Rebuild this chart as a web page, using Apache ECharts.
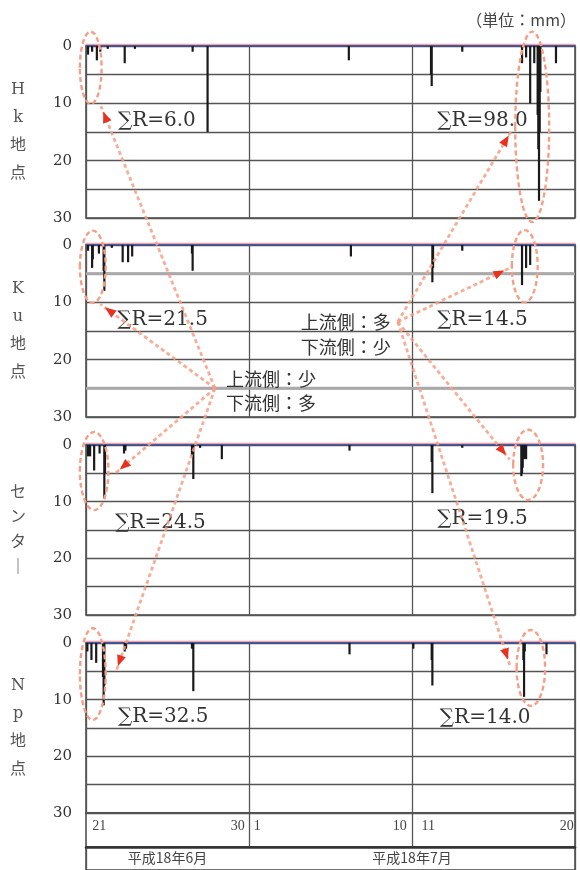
<!DOCTYPE html>
<html>
<head>
<meta charset="utf-8">
<script src="https://cdn.jsdelivr.net/npm/echarts@6/dist/echarts.min.js"></script>
<style>
html,body{margin:0;padding:0;background:#fff;}
#chart{width:580px;height:870px;}
</style>
</head>
<body>
<div id="chart"></div>
<script>
// Hourly rainfall (mm), 21 June – 20 July 2006, at four gauges.
const stationNames = ['H\nk\n地\n点', 'K\nu\n地\n点', 'セ\nン\nタ\n｜', 'N\np\n地\n点'];

const hkTimes = ['06-21 03:00','06-21 09:00','06-21 16:00','06-21 21:00','06-22 08:00','06-23 09:00','06-24 00:00',
  '06-27 13:00','06-28 11:00','07-07 03:00','07-12 04:00','07-12 05:00','07-14 02:00',
  '07-17 18:00','07-18 00:00','07-18 06:00','07-18 12:00','07-18 17:00','07-18 18:00','07-18 19:00','07-18 20:00','07-18 21:00',
  '07-19 20:00'];
const hkRain = [1.5,1.0,2.5,1.0,0.5,3.0,0.5,
  1.0,15.0,2.5,5.0,7.0,1.0,
  3.0,2.0,10.0,3.0,12.0,18.0,27.0,15.0,8.0,
  3.0];

const kuTimes = ['06-21 03:00','06-21 09:00','06-21 10:00','06-21 19:00','06-22 02:00','06-22 03:00','06-22 14:00',
  '06-23 06:00','06-23 14:00','06-23 20:00','06-27 12:00','06-27 13:00','07-07 06:00','07-12 06:00','07-12 07:00',
  '07-14 02:00','07-17 18:00','07-18 00:00','07-18 06:00'];
const kuRain = [1.0,4.0,2.5,1.5,4.5,8.0,0.5,
  3.0,3.0,2.0,1.5,4.5,2.0,6.5,4.0,
  1.0,7.0,4.0,3.5];

const ctTimes = ['06-21 03:00','06-21 06:00','06-21 12:00','06-21 20:00','06-22 03:00','06-22 04:00',
  '06-23 08:00','06-23 10:00','06-27 12:00','06-27 14:00','06-28 00:00','06-29 08:00','07-07 04:00',
  '07-12 05:00','07-12 06:00','07-14 02:00','07-17 17:00','07-17 18:00','07-17 19:00','07-17 21:00','07-18 00:00'];
const ctRain = [2.0,2.0,4.5,1.5,9.5,5.0,
  1.5,1.0,2.0,6.0,0.5,2.5,1.0,
  3.0,8.5,0.5,5.5,5.0,4.0,2.5,2.5];

const npTimes = ['06-21 02:00','06-21 08:00','06-21 15:00','06-22 01:00','06-22 02:00','06-22 03:00',
  '06-23 09:00','06-23 11:00','06-27 12:00','06-27 14:00','07-07 04:00','07-11 02:00','07-12 05:00','07-12 06:00',
  '07-17 20:00','07-17 21:00','07-17 22:00','07-19 06:00'];
const npRain = [1.5,3.0,3.5,6.0,11.0,7.5,
  1.5,1.0,1.0,8.5,2.0,1.0,3.0,7.5,
  3.0,9.5,1.5,2.0];

const dayLabels = ['21','22','23','24','25','26','27','28','29','30',
  '1','2','3','4','5','6','7','8','9','10',
  '11','12','13','14','15','16','17','18','19','20'];
const shownDays = ['21','30','1','10','11','20'];
const monthLabels = ['平成18年6月', '平成18年7月'];
const unitLabel = '（単位：mm）';
const upstreamNotes = [['上流側：少', '下流側：多'], ['上流側：多', '下流側：少']];

const stationTimes = [hkTimes, kuTimes, ctTimes, npTimes];
const stationRain = [hkRain, kuRain, ctRain, npRain];

// hours elapsed since 21 June 00:00
function hoursFrom(s) {
  const [md, hm] = s.split(' ');
  const [m, d] = md.split('-').map(Number);
  const h = Number(hm.split(':')[0]);
  const dayIdx = m === 6 ? d - 21 : 10 + d - 1;
  return dayIdx * 24 + h;
}

const chart = echarts.init(document.getElementById('chart'), null, {renderer: 'canvas'});

const panelTop = [46, 245, 445, 643];
const panelHeight = [172, 172, 170, 170];
const serif = "'DejaVu Serif','Liberation Serif',serif";
const jp = "'Noto Sans CJK JP','Noto Sans',sans-serif";

const grids = [], xAxes = [], yAxes = [], series = [];
for (let g = 0; g < 4; g++) {
  grids.push({left: 86, width: 489, top: panelTop[g], height: panelHeight[g], show: true,
    borderColor: '#444', borderWidth: 1.5});
  xAxes.push({gridIndex: g, type: 'value', position: 'top', min: 0, max: 720, interval: 240,
    axisLabel: {show: false}, axisTick: {show: false},
    axisLine: {show: true, onZero: false, lineStyle: {color: '#3d4f9e', width: 1.6,
      shadowColor: 'rgba(240,140,150,0.8)', shadowOffsetY: -1.5, shadowBlur: 0}},
    splitLine: {show: true, lineStyle: {color: '#555', width: 1.3}}});
  yAxes.push({gridIndex: g, type: 'value', inverse: true, min: 0, max: 30, interval: 5,
    axisLine: {show: false}, axisTick: {show: false},
    axisLabel: {margin: 14, color: '#333', fontFamily: serif, fontSize: 15,
      formatter: v => (v % 10 === 0 ? String(v) : '')},
    splitLine: {show: true, lineStyle: {color: '#555', width: 1.3}}});
  series.push({type: 'bar', xAxisIndex: g, yAxisIndex: g, barWidth: 2.2, silent: true,
    itemStyle: {color: '#1a1a1a'},
    data: stationTimes[g].map((t, i) => [hoursFrom(t), stationRain[g][i]])});
}
// day-number row: first day of a ten-day block nudged right, last day nudged left
const dayStyle = {
  first: {padding: [0, 0, 0, 10]},
  firstWide: {padding: [0, 0, 0, 16]},
  last: {padding: [0, 8, 0, 0]},
  lastEnd: {padding: [0, 6, 0, 0]}
};
const dayRich = {'21': 'first', '11': 'firstWide', '10': 'last', '30': 'lastEnd'};
grids.push({left: 86, width: 489, top: 813, height: 34, show: true, borderColor: '#444', borderWidth: 1.5});
xAxes.push({gridIndex: 4, type: 'category', data: dayLabels, position: 'top', boundaryGap: true,
  axisLine: {show: true, lineStyle: {color: '#333', width: 2.5}}, axisTick: {show: false},
  axisLabel: {inside: true, margin: 6, color: '#444', fontFamily: "'Liberation Serif',serif", fontSize: 14,
    interval: (i, v) => shownDays.includes(v),
    formatter: v => (dayRich[v] ? '{' + dayRich[v] + '|' + v + '}' : v),
    rich: dayStyle},
  splitLine: {show: true, interval: (i) => i === 10 || i === 20, lineStyle: {color: '#555', width: 1.3}}});
yAxes.push({gridIndex: 4, type: 'value', show: false});
// month row
grids.push({left: 86, width: 489, top: 847, height: 40, show: true, borderColor: '#444', borderWidth: 1.5});
xAxes.push({gridIndex: 5, type: 'category', data: dayLabels, boundaryGap: true,
  axisLine: {show: false}, axisTick: {show: false}, axisLabel: {show: false},
  splitLine: {show: true, interval: (i) => i === 10, lineStyle: {color: '#555', width: 1.3}}});
yAxes.push({gridIndex: 5, type: 'value', show: false});

chart.setOption({animation: false, grid: grids, xAxis: xAxes, yAxis: yAxes, series: series});

// ---- annotations, placed in each panel's data coordinates ----
const px = (g, h, mm) => chart.convertToPixel({xAxisIndex: g, yAxisIndex: g}, [h, mm]);

// circled rain groups: panel, centre time, centre mm, half-width (h), half-height (mm)
const loopPanel = [0, 0, 1, 1, 2, 2, 3, 3];
const loopCentre = ['06-21 07:00','07-18 09:00','06-21 10:00','07-17 22:00','06-21 12:00','07-18 03:00','06-21 10:00','07-18 07:00'];
const loopCentreMm = [3.8, 14.1, 3.8, 3.7, 4.6, 3.5, 5.5, 4.4];
const loopHalfHours = [16, 25, 19, 19, 21, 22, 19, 21];
const loopHalfMm = [6.3, 16.6, 6.3, 6.3, 6.9, 6.2, 8.1, 6.7];
// total label anchors (left edge)
const sumTime = ['06-22 23:00','07-12 13:00','06-22 22:00','07-12 13:00','06-22 19:00','07-12 13:00','06-22 23:00','07-12 17:00'];
const sumMm = [13.1, 13.1, 13.1, 13.1, 13.8, 13.1, 13.1, 13.2];
// pointer ends near each group, and the two hubs (in the Ku panel)
const pointerTime = ['06-21 22:00','06-21 21:00','06-22 19:00','06-22 20:00','07-17 03:00','07-17 00:00','07-17 00:00','07-17 00:00'];
const pointerMm = [10.5, 10.3, 5.0, 5.1, 14.7, 4.0, 2.6, 3.9];
const hubTime = ['06-28 22:00', '07-10 03:00'];
const hubMm = [25, 13.4];

const salmon = '#f5a086';
const gfx = [];

// lighter, heavier rules at 5 mm and 25 mm in the Ku panel
[5, 25].forEach(mm => {
  const a = px(1, 0, mm), b = px(1, 720, mm);
  gfx.push({type: 'line', z: 1, silent: true, shape: {x1: a[0], y1: a[1], x2: b[0], y2: b[1]},
    style: {stroke: '#a9a9a9', lineWidth: 3}});
});

for (let k = 0; k < 8; k++) {
  const g = loopPanel[k];
  const hc = hoursFrom(loopCentre[k]);
  const c = px(g, hc, loopCentreMm[k]);
  const e = px(g, hc + loopHalfHours[k], loopCentreMm[k] + loopHalfMm[k]);
  gfx.push({type: 'ellipse', z: 20, silent: true,
    shape: {cx: c[0], cy: c[1], rx: Math.abs(e[0] - c[0]), ry: Math.abs(e[1] - c[1])},
    style: {fill: 'none', stroke: salmon, lineWidth: 2.4, lineDash: [5, 3]}});

  // group total computed from the bars inside the loop
  const lo = hc - loopHalfHours[k], hi = hc + loopHalfHours[k];
  let total = 0;
  stationTimes[g].forEach((t, i) => { const h = hoursFrom(t); if (h >= lo && h <= hi) total += stationRain[g][i]; });
  const s = px(g, hoursFrom(sumTime[k]), sumMm[k]);
  gfx.push({type: 'text', z: 15, silent: true, x: s[0], y: s[1],
    style: {text: '∑R=' + total.toFixed(1), fill: '#333', font: '20px ' + serif,
      textAlign: 'left', textVerticalAlign: 'middle'}});
}

const hubs = hubTime.map((t, i) => px(1, hoursFrom(t), hubMm[i]));
for (let k = 0; k < 8; k++) {
  const g = k % 4;
  const hub = hubs[k < 4 ? 0 : 1];
  const end = px(g, hoursFrom(pointerTime[k]), pointerMm[k]);
  gfx.push({type: 'line', z: 20, silent: true,
    shape: {x1: hub[0], y1: hub[1], x2: end[0], y2: end[1]},
    style: {stroke: salmon, lineWidth: 2.8, lineDash: [4, 3], opacity: 0.85}});
  const dx = hub[0] - end[0], dy = hub[1] - end[1], len = Math.hypot(dx, dy);
  const ux = dx / len, uy = dy / len;
  const tip = [end[0] + ux * 6, end[1] + uy * 6];
  const bx = tip[0] + ux * 11, by = tip[1] + uy * 11;
  const nx = -uy, ny = ux;
  gfx.push({type: 'polygon', z: 21, silent: true,
    shape: {points: [tip, [bx + nx * 4.5, by + ny * 4.5], [bx - nx * 4.5, by - ny * 4.5]]},
    style: {fill: '#e8321f'}});
}

// upstream / downstream notes beside the hubs
const noteFont = '18px ' + jp;
gfx.push({type: 'text', z: 15, silent: true, x: hubs[0][0] + 11, y: hubs[0][1] - 9,
  style: {text: upstreamNotes[0][0], fill: '#333', font: noteFont, textAlign: 'left', textVerticalAlign: 'middle'}});
gfx.push({type: 'text', z: 15, silent: true, x: hubs[0][0] + 11, y: hubs[0][1] + 15,
  style: {text: upstreamNotes[0][1], fill: '#333', font: noteFont, textAlign: 'left', textVerticalAlign: 'middle'}});
gfx.push({type: 'text', z: 15, silent: true, x: hubs[1][0] - 7, y: hubs[1][1],
  style: {text: upstreamNotes[1][0], fill: '#333', font: noteFont, textAlign: 'right', textVerticalAlign: 'middle'}});
gfx.push({type: 'text', z: 15, silent: true, x: hubs[1][0] - 7, y: hubs[1][1] + 25,
  style: {text: upstreamNotes[1][1], fill: '#333', font: noteFont, textAlign: 'right', textVerticalAlign: 'middle'}});

// station names, stacked vertically beside each panel
for (let g = 0; g < 4; g++) {
  gfx.push({type: 'text', silent: true, x: 18, y: panelTop[g] + panelHeight[g] / 2,
    style: {text: stationNames[g], fill: '#555', font: '16px ' + serif + ",'Noto Sans CJK JP'",
      lineHeight: g === 2 ? 25 : 28, textAlign: 'center', textVerticalAlign: 'middle'}});
}

// month captions, centred on each month's span
[[0, 240], [240, 720]].forEach((span, i) => {
  const xm = chart.convertToPixel({xAxisIndex: 3}, (span[0] + span[1]) / 2);
  gfx.push({type: 'text', silent: true, x: xm, y: 858,
    style: {text: monthLabels[i], fill: '#444', font: '14px ' + jp, textAlign: 'center', textVerticalAlign: 'middle'}});
});

gfx.push({type: 'text', silent: true, x: 576, y: 20,
  style: {text: unitLabel, fill: '#444', font: '16px ' + jp, textAlign: 'right', textVerticalAlign: 'middle'}});

chart.setOption({graphic: gfx});
</script>
</body>
</html>
